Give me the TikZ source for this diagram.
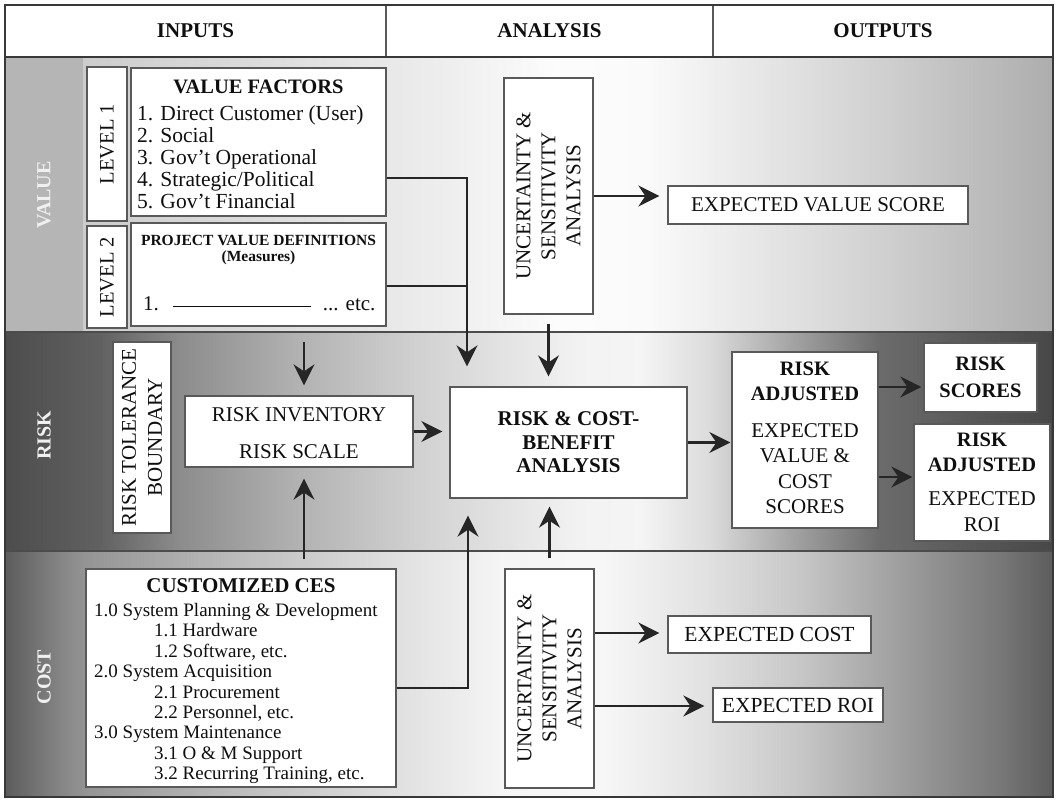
\documentclass[tikz,border=0pt]{standalone}
\usepackage{fontspec}
\setmainfont{Liberation Serif}
\usetikzlibrary{arrows.meta,calc}

\definecolor{frameline}{gray}{0.22}
\definecolor{boxline}{gray}{0.35}
\definecolor{arrline}{gray}{0.15}
\definecolor{inktext}{gray}{0.06}
\definecolor{bandtext}{gray}{0.94}

% horizontal band shadings (path spans 25bp..75bp)
\pgfdeclarehorizontalshading{valueshade}{100bp}{%
  color(0bp)=(black!20); color(25bp)=(black!20); color(33.61bp)=(black!14);
  color(43.40bp)=(black!7); color(49.59bp)=(black!1); color(54.23bp)=(black!2);
  color(64.54bp)=(black!16); color(75bp)=(black!32); color(100bp)=(black!32)}
\pgfdeclarehorizontalshading{riskshade}{100bp}{%
  color(0bp)=(black!70); color(25bp)=(black!70); color(29.53bp)=(black!62);
  color(33.35bp)=(black!45); color(39.07bp)=(black!30); color(45.28bp)=(black!17);
  color(52.43bp)=(black!5); color(55.30bp)=(black!4); color(58.64bp)=(black!14);
  color(62.93bp)=(black!38); color(66.75bp)=(black!58); color(75bp)=(black!72);
  color(100bp)=(black!72)}
\pgfdeclarehorizontalshading{costshade}{100bp}{%
  color(0bp)=(black!64); color(25bp)=(black!64); color(27.62bp)=(black!48);
  color(28.82bp)=(black!42); color(36.69bp)=(black!25); color(43.85bp)=(black!12);
  color(48.62bp)=(black!4); color(53.39bp)=(black!3); color(58.16bp)=(black!11);
  color(62.93bp)=(black!22); color(67.70bp)=(black!38); color(72.47bp)=(black!53);
  color(75bp)=(black!64); color(100bp)=(black!64)}

\tikzset{
  box/.style={draw=boxline, line width=1.3pt, fill=white, inner sep=0pt},
  txt/.style={text=inktext, inner sep=0pt, font=\fontsize{21}{25}\selectfont},
  btxt/.style={txt, font=\fontsize{20.5}{24}\selectfont\bfseries},
  vtxt/.style={txt, rotate=90, align=center},
  bandlabel/.style={text=bandtext, inner sep=0pt, rotate=90,
    font=\fontsize{20}{22}\selectfont\bfseries},
  headtxt/.style={text=inktext, inner sep=0pt, font=\fontsize{21}{24}\selectfont\bfseries},
  wire/.style={draw=arrline, line width=2.3pt},
  arr/.style={wire, -{Stealth[length=21pt, width=21pt, inset=7pt]}},
}

\begin{document}
\begin{tikzpicture}[x=1pt, y=-1pt]
\useasboundingbox (0,0) rectangle (1057,800);

% ---- band backgrounds
\fill[black!29] (5,57) rectangle (83,332);
\shade[shading=valueshade] (83,57) rectangle (1053,332);
\shade[shading=riskshade] (5,332) rectangle (1053,551);
\shade[shading=costshade] (5,551) rectangle (1053,797);

% ---- header row
\fill[white] (5,5) rectangle (1053,57);
\draw[boxline, line width=1.2pt] (386,5) -- (386,57) (713,5) -- (713,57);
\node[headtxt] (hin)  at (195.5,31) {INPUTS};
\node[headtxt] (han)  at (549.5,31) {ANALYSIS};
\node[headtxt] (hout) at (883,31)   {OUTPUTS};

% ---- band separators and outer frame
\draw[frameline, line width=2.5pt] (5,57) -- (1053,57);
\draw[frameline!90, line width=2.2pt] (5,332) -- (1053,332) (5,551) -- (1053,551);
\draw[frameline, line width=2pt] (5,5) rectangle (1053,797);

% ---- band labels
\node[bandlabel] (lvalue) at (44,195) {VALUE};
\node[bandlabel] (lrisk)  at (44,435) {RISK};
\node[bandlabel] (lcost)  at (44,677) {COST};

% ---- VALUE band
\node[box, minimum width=40pt, minimum height=154pt] (lev1) at (107,144) {};
\node[vtxt, font=\fontsize{20.5}{24}\selectfont] (lev1t) at (lev1.center) {LEVEL 1};
\node[box, minimum width=40pt, minimum height=102pt] (lev2) at (107,277) {};
\node[vtxt, font=\fontsize{20.5}{24}\selectfont] (lev2t) at (lev2.center) {LEVEL 2};

\node[box, minimum width=255pt, minimum height=148pt] (vf) at (258.5,142) {};
\node[btxt] (vftitle) at (258.5,87) {VALUE FACTORS};
\foreach \t [count=\i] in {1. Direct Customer (User), 2. Social,
    3. Gov’t Operational, 4. Strategic/Political, 5. Gov’t Financial}
  \node[txt, anchor=base west, font=\fontsize{21.5}{24}\selectfont]
    (vf\i) at (137,{120+22*(\i-1)}) {\t};

\node[box, minimum width=255pt, minimum height=103pt] (pvd) at (258.5,274.5) {};
\node[btxt, font=\fontsize{15.5}{18}\selectfont\bfseries] (pvdtitle) at (258.5,240)
  {PROJECT VALUE DEFINITIONS};
\node[btxt, font=\fontsize{15.5}{18}\selectfont\bfseries] (pvdsub) at (258.5,258)
  {(Measures)};
\node[txt, anchor=base west, font=\fontsize{21}{24}\selectfont] (pvdline) at (143,310)
  {1.\hspace{14pt}\rule[3pt]{138pt}{1.1pt}\hspace{12pt}... etc.};

\node[box, minimum width=89pt, minimum height=236pt] (uva) at (548.5,196) {};
\node[vtxt] (uvat) at (uva.center) {UNCERTAINTY \&\\SENSITIVITY\\ANALYSIS};

\node[box, minimum width=300pt, minimum height=38pt] (evs) at (818,205) {};
\node[txt] (evst) at (evs.center) {EXPECTED VALUE SCORE};

% ---- RISK band
\node[box, minimum width=58pt, minimum height=191pt] (rtb) at (142,437.5) {};
\node[vtxt, font=\fontsize{21}{26}\selectfont] (rtbt) at (rtb.center) {RISK TOLERANCE\\BOUNDARY};

\node[box, minimum width=228pt, minimum height=71pt] (ri) at (299,431.5) {};
\node[txt] (rit1) at (299,415) {RISK INVENTORY};
\node[txt] (rit2) at (299,452) {RISK SCALE};

\node[box, minimum width=237pt, minimum height=111pt] (rcb) at (568.5,442.5) {};
\node[btxt, align=center, font=\fontsize{21}{23.5}\selectfont\bfseries] (rcbt) at (rcb.center)
  {RISK \& COST-\\BENEFIT\\ANALYSIS};

\node[box, minimum width=146pt, minimum height=176pt] (ra) at (805,440) {};
\node[btxt, align=center, font=\fontsize{20.5}{25}\selectfont\bfseries] (rat1) at (805,381)
  {RISK\\ADJUSTED};
\node[txt, align=center, font=\fontsize{21}{25.5}\selectfont] (rat2) at (805,468.5)
  {EXPECTED\\VALUE \&\\COST\\SCORES};

\node[box, minimum width=113pt, minimum height=69pt] (rs) at (980.5,377.5) {};
\node[btxt, align=center, font=\fontsize{20.5}{27}\selectfont\bfseries] (rst) at (rs.center)
  {RISK\\SCORES};

\node[box, minimum width=136pt, minimum height=117pt] (rroi) at (982,482.5) {};
\node[btxt, align=center, font=\fontsize{20.5}{25}\selectfont\bfseries] (rroit1) at (982,452.5)
  {RISK\\ADJUSTED};
\node[txt, align=center, font=\fontsize{21}{26}\selectfont] (rroit2) at (982,512)
  {EXPECTED\\ROI};

% ---- COST band
\node[box, minimum width=310pt, minimum height=218pt] (ces) at (241,678) {};
\node[btxt, font=\fontsize{21}{24}\selectfont\bfseries] (cestitle) at (241,586) {CUSTOMIZED CES};
\foreach \t/\xx [count=\i] in {1.0 System Planning \& Development/94, 1.1 Hardware/154,
    {1.2 Software, etc.}/154, 2.0 System Acquisition/94, 2.1 Procurement/154,
    {2.2 Personnel, etc.}/154, 3.0 System Maintenance/94, 3.1 O \& M Support/154,
    {3.2 Recurring Training, etc.}/154}
  \node[txt, anchor=base west, font=\fontsize{19}{21}\selectfont]
    (ces\i) at (\xx,{616.5+20.4*(\i-1)}) {\t};

\node[box, minimum width=89pt, minimum height=219pt] (uvb) at (549.5,678.5) {};
\node[vtxt] (uvbt) at (uvb.center) {UNCERTAINTY \&\\SENSITIVITY\\ANALYSIS};

\node[box, minimum width=203pt, minimum height=37pt] (ec) at (769.5,634.5) {};
\node[txt, font=\fontsize{21.5}{25}\selectfont] (ect) at (ec.center) {EXPECTED COST};
\node[box, minimum width=170pt, minimum height=34pt] (eroi) at (798,705) {};
\node[txt, font=\fontsize{21.5}{25}\selectfont] (eroit) at (eroi.center) {EXPECTED ROI};

% ---- connectors
\coordinate (jv) at (467,178);
\coordinate (jp) at (467,286);
\draw[arr, shorten >=20pt] (vf.east |- jv) -| (rcb.north -| jv);
\draw[wire] (pvd.east |- jp) -- (jp);
\draw[arr, shorten <=9pt, shorten >=10pt] (uva.south) -- (uva.south |- rcb.north);
\draw[arr, shorten >=8pt] (uva.east) -- (uva.east -| evs.west);

\coordinate (riin) at (304,342);
\draw[arr, shorten >=10pt] (riin) -- (riin |- ri.north);
\draw[arr, shorten <=9pt, shorten >=11pt] (ces.north -| riin) -- (ri.south -| riin);
\draw[arr, shorten >=7pt] (ri.east) -- (ri.east -| rcb.west);
\draw[arr, shorten >=1pt] (rcb.east) -- (rcb.east -| ra.west);
\draw[arr, shorten >=2pt] ($(ra.east)+(0,-53)$) -- ($(ra.east -| rs.west)+(0,-53)$);
\draw[arr, shorten >=1pt] ($(ra.east)+(0,37)$) -- ($(ra.east -| rroi.west)+(0,37)$);

\coordinate (jc) at (468,688);
\draw[arr, shorten >=17pt] (ces.east |- jc) -| (rcb.south -| jc);
\draw[arr, shorten <=10pt, shorten >=8pt] (uvb.north) -- (uvb.north |- rcb.south);
\draw[arr, shorten >=8pt] ($(uvb.east)+(0,-45.5)$) -- ($(uvb.east -| ec.west)+(0,-45.5)$);
\draw[arr, shorten >=8pt] ($(uvb.east)+(0,27.5)$) -- ($(uvb.east -| eroi.west)+(0,27.5)$);
\end{tikzpicture}
\end{document}
